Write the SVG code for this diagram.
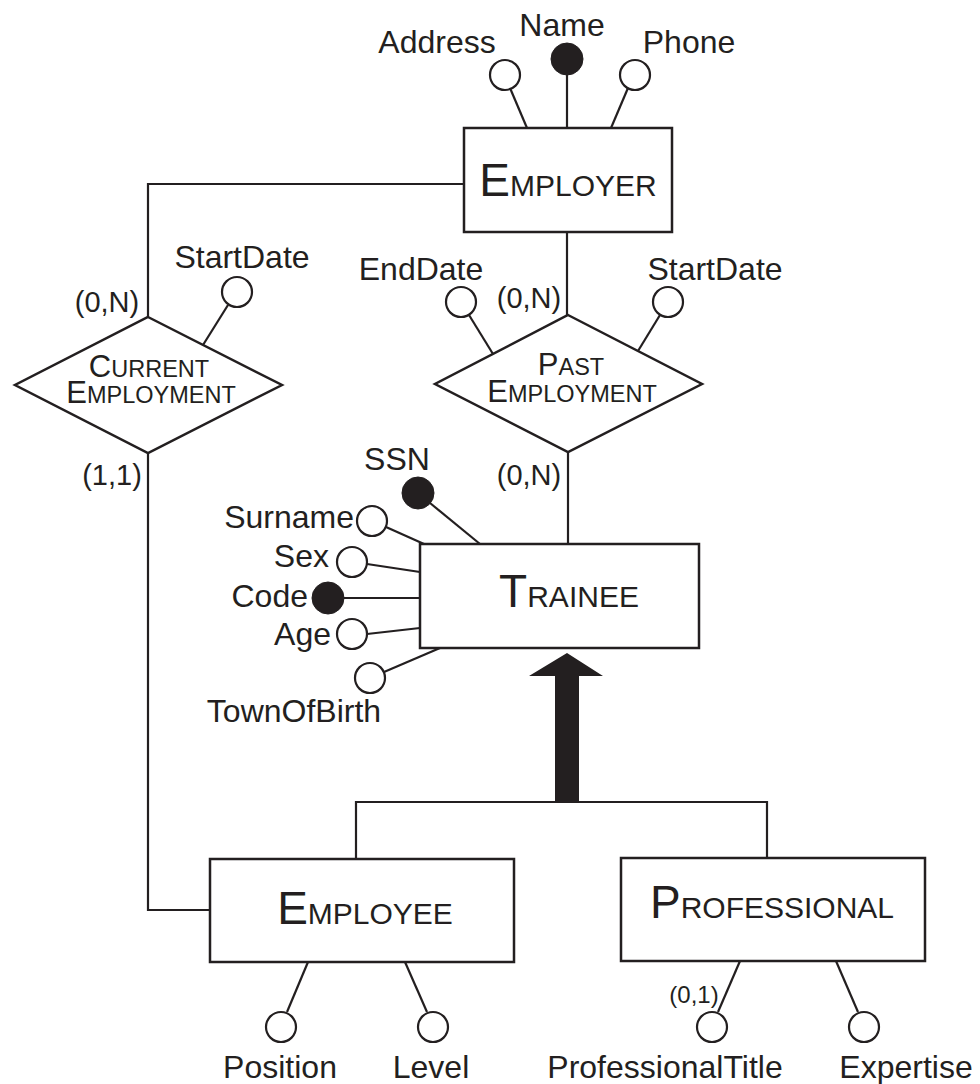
<svg xmlns="http://www.w3.org/2000/svg" width="980" height="1084" viewBox="0 0 980 1084">
<style>
text{font-family:"Liberation Sans",Arial,sans-serif;fill:#231f20}
.attr{font-size:32px}
.card{font-size:29px}
.ent{stroke:#231f20;stroke-width:2.5;fill:#fff}
.rel{stroke:#231f20;stroke-width:2.5;fill:#fff}
.ln{stroke:#231f20;stroke-width:2.2;fill:none}
.oc{stroke:#231f20;stroke-width:2.2;fill:#fff}
.fc{fill:#231f20;stroke:#231f20;stroke-width:1}
.big{font-size:46px}
.sc{font-size:30px}
.rbig{font-size:31px}
.rsc{font-size:23.5px}
</style>
<rect width="980" height="1084" fill="#fff"/>
<g id="connectors">
<path class="ln" d="M464,184 H148 V317"/>
<path class="ln" d="M567,232 V315"/>
<path class="ln" d="M568,452 V544"/>
<path class="ln" d="M148,453 V910 H210"/>
<path class="ln" d="M356,859 V802 H767 V858"/>
<polygon fill="#231f20" points="567,653 603,676 579,676 579,802 555,802 555,676 529,676"/>
</g>
<g id="employer">
<rect class="ent" x="464" y="128" width="208" height="104"/>
<text x="568" y="196" text-anchor="middle"><tspan class="big">E</tspan><tspan class="sc">MPLOYER</tspan></text>
</g>
<g id="employer-address">
<line class="ln" x1="510" y1="88" x2="527" y2="128"/>
<circle class="oc" cx="505" cy="75" r="15"/>
<text class="attr" x="437" y="53" text-anchor="middle">Address</text>
</g>
<g id="employer-name">
<line class="ln" x1="567" y1="75" x2="567" y2="128"/>
<circle class="fc" cx="567" cy="59" r="16"/>
<text class="attr" x="562" y="36" text-anchor="middle">Name</text>
</g>
<g id="employer-phone">
<line class="ln" x1="628" y1="88" x2="611" y2="128"/>
<circle class="oc" cx="635" cy="75" r="15"/>
<text class="attr" x="689" y="53" text-anchor="middle">Phone</text>
</g>
<g id="current-employment">
<polygon class="rel" points="148,317 282,385 148,453 15,385"/>
<text x="149" y="377" text-anchor="middle"><tspan class="rbig">C</tspan><tspan class="rsc">URRENT</tspan></text>
<text x="151" y="403" text-anchor="middle"><tspan class="rbig">E</tspan><tspan class="rsc">MPLOYMENT</tspan></text>
<text class="card" x="107" y="312" text-anchor="middle">(0,N)</text>
<text class="card" x="112" y="485" text-anchor="middle">(1,1)</text>
</g>
<g id="current-startdate">
<line class="ln" x1="228" y1="305" x2="203" y2="345"/>
<circle class="oc" cx="237" cy="292" r="15"/>
<text class="attr" x="242" y="268" text-anchor="middle">StartDate</text>
</g>
<g id="past-employment">
<polygon class="rel" points="568,315 702,384 568,452 435,384"/>
<text x="571" y="375" text-anchor="middle"><tspan class="rbig">P</tspan><tspan class="rsc">AST</tspan></text>
<text x="572" y="402" text-anchor="middle"><tspan class="rbig">E</tspan><tspan class="rsc">MPLOYMENT</tspan></text>
<text class="card" x="529" y="308" text-anchor="middle">(0,N)</text>
<text class="card" x="529" y="485" text-anchor="middle">(0,N)</text>
</g>
<g id="past-enddate">
<line class="ln" x1="469" y1="315" x2="493" y2="354"/>
<circle class="oc" cx="461" cy="302" r="15"/>
<text class="attr" x="421" y="280" text-anchor="middle">EndDate</text>
</g>
<g id="past-startdate">
<line class="ln" x1="660" y1="315" x2="638" y2="351"/>
<circle class="oc" cx="668" cy="302" r="15"/>
<text class="attr" x="715" y="280" text-anchor="middle">StartDate</text>
</g>
<g id="trainee">
<rect class="ent" x="420" y="544" width="279" height="104"/>
<text x="569" y="607" text-anchor="middle"><tspan class="big">T</tspan><tspan class="sc">RAINEE</tspan></text>
</g>
<g id="trainee-ssn">
<line class="ln" x1="430" y1="503" x2="480" y2="544"/>
<circle class="fc" cx="418" cy="493" r="16"/>
<text class="attr" x="397" y="470" text-anchor="middle">SSN</text>
</g>
<g id="trainee-surname">
<line class="ln" x1="386" y1="527" x2="424" y2="544"/>
<circle class="oc" cx="372" cy="521" r="15"/>
<text class="attr" x="354" y="528" text-anchor="end">Surname</text>
</g>
<g id="trainee-sex">
<line class="ln" x1="367" y1="564" x2="420" y2="572"/>
<circle class="oc" cx="352" cy="562" r="15"/>
<text class="attr" x="329" y="567" text-anchor="end">Sex</text>
</g>
<g id="trainee-code">
<line class="ln" x1="344" y1="598" x2="420" y2="598"/>
<circle class="fc" cx="328" cy="598" r="16"/>
<text class="attr" x="308" y="607" text-anchor="end">Code</text>
</g>
<g id="trainee-age">
<line class="ln" x1="367" y1="634" x2="420" y2="628"/>
<circle class="oc" cx="352" cy="634" r="15"/>
<text class="attr" x="331" y="645" text-anchor="end">Age</text>
</g>
<g id="trainee-townofbirth">
<line class="ln" x1="384" y1="672" x2="440" y2="648"/>
<circle class="oc" cx="370" cy="678" r="15"/>
<text class="attr" x="294" y="722" text-anchor="middle">TownOfBirth</text>
</g>
<g id="employee">
<rect class="ent" x="210" y="859" width="304" height="103"/>
<text x="365" y="924" text-anchor="middle"><tspan class="big">E</tspan><tspan class="sc">MPLOYEE</tspan></text>
</g>
<g id="employee-position">
<line class="ln" x1="287" y1="1012" x2="308" y2="962"/>
<circle class="oc" cx="281" cy="1027" r="15"/>
<text class="attr" x="280" y="1078" text-anchor="middle">Position</text>
</g>
<g id="employee-level">
<line class="ln" x1="427" y1="1012" x2="405" y2="962"/>
<circle class="oc" cx="433" cy="1027" r="15"/>
<text class="attr" x="431" y="1078" text-anchor="middle">Level</text>
</g>
<g id="professional">
<rect class="ent" x="621" y="858" width="304" height="103"/>
<text x="772" y="918" text-anchor="middle"><tspan class="big">P</tspan><tspan class="sc">ROFESSIONAL</tspan></text>
</g>
<g id="professional-title">
<line class="ln" x1="718" y1="1012" x2="740" y2="961"/>
<circle class="oc" cx="712" cy="1027" r="15"/>
<text x="694" y="1003" text-anchor="middle" font-size="24">(0,1)</text>
<text class="attr" x="665" y="1078" text-anchor="middle">ProfessionalTitle</text>
</g>
<g id="professional-expertise">
<line class="ln" x1="858" y1="1012" x2="836" y2="961"/>
<circle class="oc" cx="864" cy="1027" r="15"/>
<text class="attr" x="906" y="1078" text-anchor="middle">Expertise</text>
</g>
</svg>
